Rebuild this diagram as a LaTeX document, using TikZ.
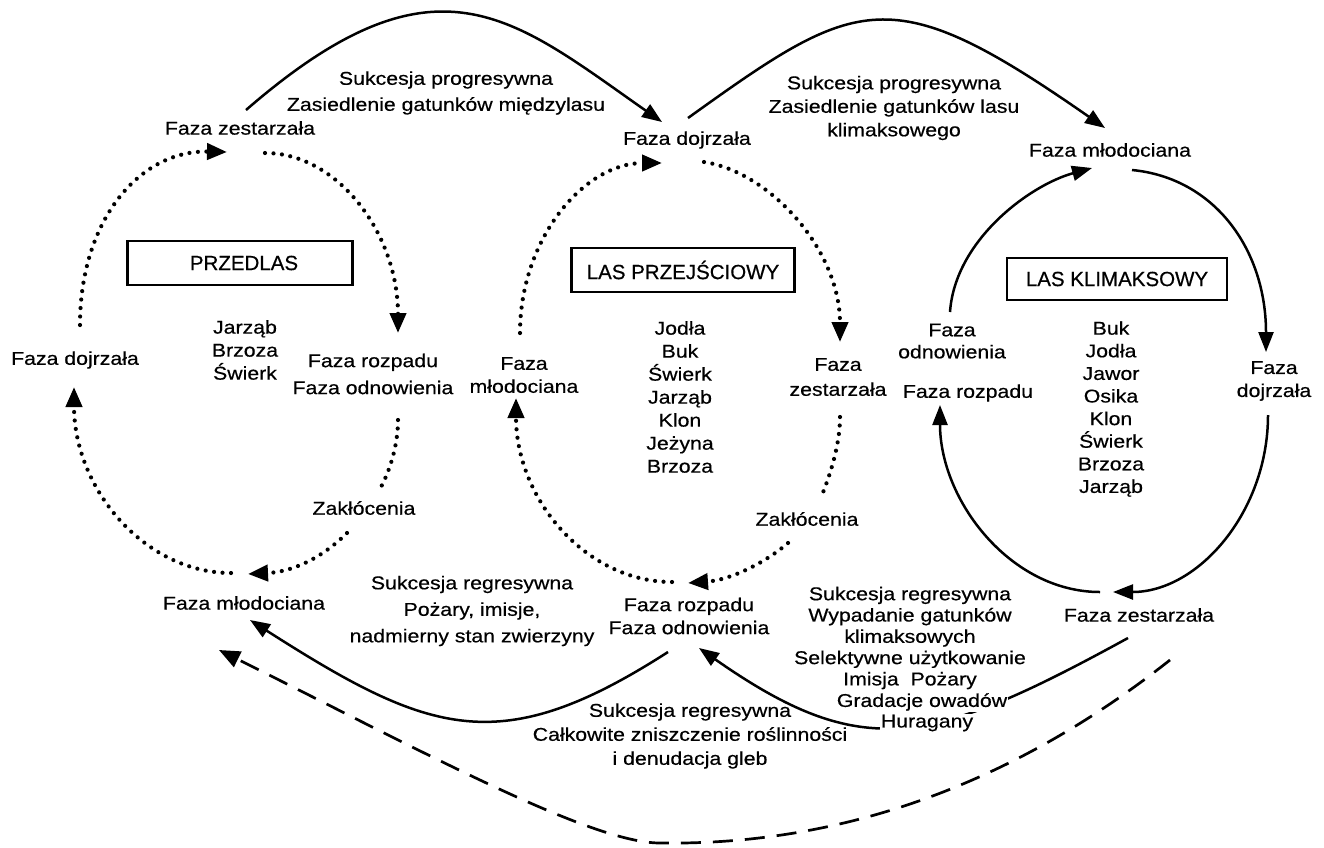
\documentclass[tikz,border=0pt]{standalone}
\usepackage{fontspec}
\setmainfont{Liberation Sans}[FakeStretch=1.15,FakeBold=0.5]
\newfontfamily\boxfont{Liberation Sans}[FakeStretch=1.0,FakeBold=0.5]
\usetikzlibrary{arrows.meta}
\begin{document}
\begin{tikzpicture}[x=1pt,y=-1pt,
  lbl/.style={align=center,inner sep=0pt,font=\fontsize{18.5pt}{#1}\selectfont},
  lbl/.default=23pt,
  boxnode/.style={draw,line width=2.2pt,inner sep=0pt,minimum height=44pt,font=\boxfont\fontsize{20.5pt}{24pt}\selectfont},
  solidarr/.style={line width=2.5pt,-{Triangle[length=20pt,width=15pt]}},
  dotarr/.style={line width=4.2pt,line cap=round,dash pattern=on 0pt off 8.5pt,-{Triangle[length=20pt,width=16pt]}},
  dotline/.style={line width=4.2pt,line cap=round,dash pattern=on 0pt off 8.5pt},
  dasharr/.style={line width=2.7pt,dash pattern=on 20pt off 12pt,-{Triangle[length=21pt,width=17pt]}}
]
\fill[white] (0,0) rectangle (1324,847);
\useasboundingbox (0,0) rectangle (1324,847);

% ---------- text nodes ----------
\node[lbl] (zest1) at (240,128) {Faza zestarzała};
\node[lbl=26pt] (lab1) at (446,93) {Sukcesja progresywna\\Zasiedlenie gatunków międzylasu};
\node[lbl] (doj2) at (687,140) {Faza dojrzała};
\node[lbl=23.5pt] (lab2) at (894,108) {Sukcesja progresywna\\Zasiedlenie gatunków lasu\\klimaksowego};
\node[lbl] (mlo3) at (1110,150) {Faza młodociana};

\node[boxnode,minimum width=225pt] (box1) at (240,263) {\hspace*{8pt}PRZEDLAS};
\node[lbl=23pt] (sp1) at (245,350) {Jarząb\\Brzoza\\Świerk};
\node[lbl] (doj1) at (75,360) {Faza dojrzała};
\node[lbl=27pt] (roz1) at (373,374) {Faza rozpadu\\Faza odnowienia};
\node[lbl] (zak1) at (364,508) {Zakłócenia};
\node[lbl] (mlo1) at (244,603) {Faza młodociana};

\node[boxnode,minimum width=223pt] (box2) at (683,270) {LAS PRZEJŚCIOWY};
\node[lbl=23pt] (mlo2) at (524,375) {Faza\\młodociana};
\node[lbl=23pt] (sp2) at (680,397) {Jodła\\Buk\\Świerk\\Jarząb\\Klon\\Jeżyna\\Brzoza};
\node[lbl=25pt] (zes2) at (838,377) {Faza\\zestarzała};
\node[lbl] (zak2) at (807,519) {Zakłócenia};
\node[lbl=23pt] (roz2) at (689,616) {Faza rozpadu\\Faza odnowienia};
\node[lbl=26.5pt] (lab3) at (472,611) {Sukcesja regresywna\\Pożary, imisje,\\nadmierny stan zwierzyny};

\node[boxnode,minimum width=220pt,minimum height=42pt] (box3) at (1117,279) {LAS KLIMAKSOWY};
\node[lbl=22pt] (odn3) at (952,341) {Faza\\odnowienia};
\node[lbl] (roz3) at (968,393) {Faza rozpadu};
\node[lbl=22.6pt] (sp3) at (1111,409) {Buk\\Jodła\\Jawor\\Osika\\Klon\\Świerk\\Brzoza\\Jarząb};
\node[lbl=23pt] (doj3) at (1274,381) {Faza\\dojrzała};
\node[lbl] (zes3) at (1139,615) {Faza zestarzała};
\node[lbl=21.3pt] (lab4) at (910,638) {Sukcesja regresywna\\Wypadanie gatunków\\klimaksowych\\Selektywne użytkowanie\\Imisja\ \ Pożary};
\node[lbl=24pt] (lab5) at (690,736) {Sukcesja regresywna\\Całkowite zniszczenie roślinności\\i denudacja gleb};

% ---------- connector end points ----------
\coordinate (a1s) at (246,110); \coordinate (a1e) at (662,122);
\coordinate (a2s) at (688,118); \coordinate (a2e) at (1105,128);
\coordinate (d1s) at (80,325);  \coordinate (d1e) at (227,152);
\coordinate (d2s) at (265,153); \coordinate (d2e) at (398,333);
\coordinate (d3s) at (398,420); \coordinate (d3e) at (381,487);
\coordinate (d4s) at (347,533); \coordinate (d4e) at (248,574);
\coordinate (d5s) at (231,573); \coordinate (d5e) at (74,387);
\coordinate (m1s) at (520,333); \coordinate (m1e) at (662,163);
\coordinate (m2s) at (704,162); \coordinate (m2e) at (840,342);
\coordinate (m3s) at (840,417); \coordinate (m3e) at (822,495);
\coordinate (m4s) at (788,543); \coordinate (m4e) at (688,583);
\coordinate (m5s) at (672,582); \coordinate (m5e) at (516,398);
\coordinate (r1s) at (950,312); \coordinate (r1e) at (1092,168);
\coordinate (r2s) at (1132,170); \coordinate (r2e) at (1266,352);
\coordinate (r3s) at (1268,415); \coordinate (r3e) at (1113,592);
\coordinate (r4s) at (1100,592); \coordinate (r4e) at (940,405);
\coordinate (b1s) at (668,652); \coordinate (b1e) at (250,620);
\coordinate (b2s) at (1128,638); \coordinate (b2e) at (699,648);
\coordinate (dss) at (1170,660); \coordinate (dsm) at (660,843); \coordinate (dse) at (219,650);

% ---------- top progressive arcs ----------
\draw[solidarr] (a1s) .. controls (436,-55) and (512,17) .. (a1e);
\draw[solidarr] (a2s) .. controls (858,-4) and (890,-22) .. (a2e);

% ---------- PRZEDLAS cycle ----------
\draw[dotarr] (d1s) .. controls (80,220) and (140,150) .. (d1e);
\draw[dotarr] (d2s) .. controls (338,153) and (398,234) .. (d2e);
\draw[dotline] (d3s) .. controls (398,445) and (390,470) .. (d3e);
\draw[dotarr] (d4s) .. controls (320,560) and (290,572) .. (d4e);
\draw[dotarr] (d5s) .. controls (145,573) and (74,489) .. (d5e);

% ---------- LAS PRZEJSCIOWY cycle ----------
\draw[dotarr] (m1s) .. controls (520,239) and (584,163) .. (m1e);
\draw[dotarr] (m2s) .. controls (770,172) and (840,250) .. (m2e);
\draw[dotline] (m3s) .. controls (840,445) and (830,475) .. (m3e);
\draw[dotarr] (m4s) .. controls (765,563) and (730,580) .. (m4e);
\draw[dotarr] (m5s) .. controls (586,582) and (516,499) .. (m5e);

% ---------- LAS KLIMAKSOWY cycle ----------
\draw[solidarr] (r1s) .. controls (955,240) and (1030,185) .. (r1e);
\draw[solidarr] (r2s) .. controls (1215,178) and (1266,250) .. (r2e);
\draw[solidarr] (r3s) .. controls (1268,512) and (1198,592) .. (r3e);
\draw[solidarr] (r4s) .. controls (1010,592) and (940,500) .. (r4e);

% ---------- regressive arcs ----------
\draw[solidarr] (b1s) .. controls (500,760) and (430,735) .. (b1e);
\draw[solidarr] (b2s) .. controls (929,747) and (862,762) .. (b2e);
\draw[dasharr] (dss) .. controls (980,810) and (800,845) .. (dsm) .. controls (590,843) and (420,750) .. (dse);

\node[lbl,fill=white,inner sep=1pt] (lab4f) at (922,702) {Gradacje owadów};
\node[lbl,fill=white,inner sep=1pt] (lab4g) at (927,723) {Huragany};
\end{tikzpicture}
\end{document}
